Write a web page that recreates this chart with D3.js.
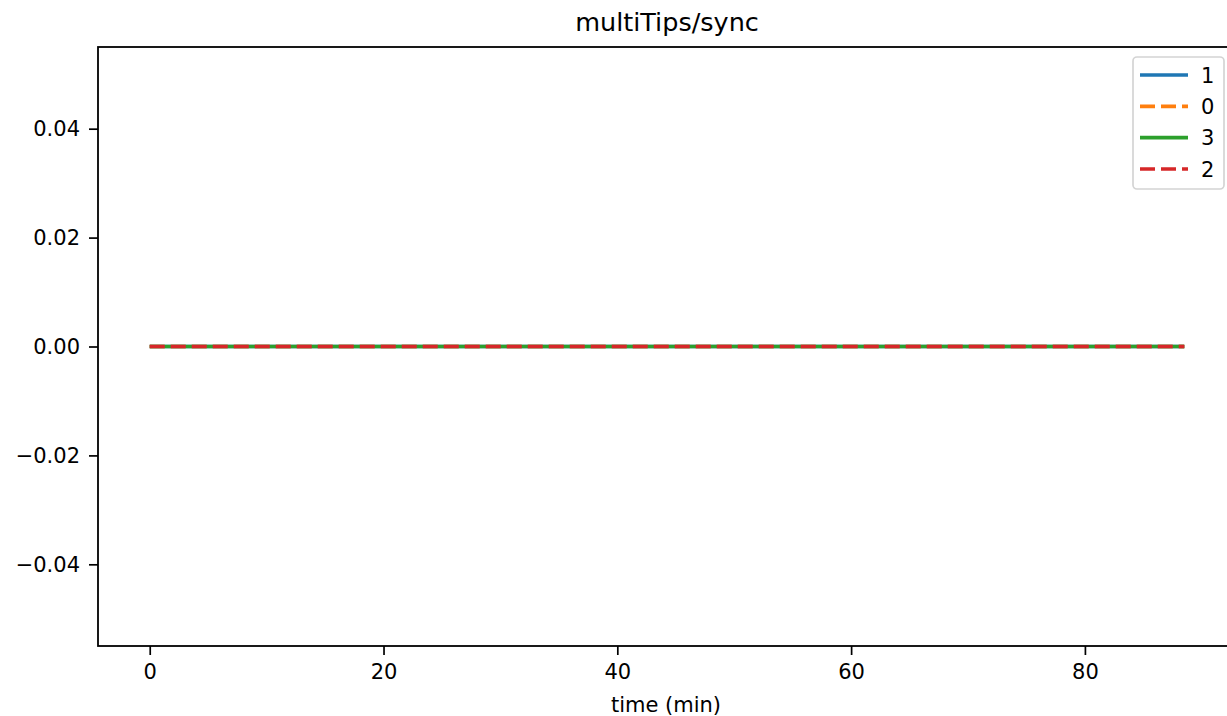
<!DOCTYPE html>
<html>
<head>
<meta charset="utf-8">
<script src="https://cdn.jsdelivr.net/npm/d3@7"></script>
<style>
  html, body { margin: 0; padding: 0; background: #fff; overflow: hidden; }
  svg { display: block; font-family: "DejaVu Sans", sans-serif; }
</style>
</head>
<body>
<svg id="chart" width="1227" height="716"></svg>
<script>
// ---- data ----
const title = "multiTips/sync";
const xLabel = "time (min)";
const seriesNames = ["1", "0", "3", "2"];
const seriesColors = ["#1f77b4", "#ff7f0e", "#2ca02c", "#d62728"];
const seriesDashed = [false, true, false, true];
const timeMin = [0, 10, 20, 30, 40, 50, 60, 70, 80, 88.5];
const values1 = [0, 0, 0, 0, 0, 0, 0, 0, 0, 0];
const values0 = [0, 0, 0, 0, 0, 0, 0, 0, 0, 0];
const values3 = [0, 0, 0, 0, 0, 0, 0, 0, 0, 0];
const values2 = [0, 0, 0, 0, 0, 0, 0, 0, 0, 0];
const seriesValues = [values1, values0, values3, values2];
const xTicks = [0, 20, 40, 60, 80];
const yTicks = [-0.04, -0.02, 0.00, 0.02, 0.04];
const xDomain = [-4.425, 92.925];
const yDomain = [-0.055, 0.055];

// ---- layout ----
const svg = d3.select("#chart");
const mLeft = 98, mTop = 47, mBottom = 646;
const mRight = 1236;
const x = d3.scaleLinear().domain(xDomain).range([mLeft, mRight]);
const y = d3.scaleLinear().domain(yDomain).range([mBottom, mTop]);

const fmtY = v => {
  const s = Math.abs(v).toFixed(2);
  return (v < -1e-12 ? "\u2212" : "") + s;
};

// axes
const xAxis = d3.axisBottom(x).tickValues(xTicks).tickSize(9).tickPadding(9).tickFormat(d3.format("d"));
const yAxis = d3.axisLeft(y).tickValues(yTicks).tickSize(9).tickPadding(9).tickFormat(fmtY);

const gx = svg.append("g").attr("transform", `translate(0,${mBottom})`).call(xAxis);
const gy = svg.append("g").attr("transform", `translate(${mLeft},0)`).call(yAxis);
[gx, gy].forEach(g => {
  g.select(".domain").remove();
  g.selectAll(".tick line").attr("stroke", "#000").attr("stroke-width", 1.7);
  g.selectAll(".tick text").attr("fill", "#000").style("font-size", "21px").style("font-family", "DejaVu Sans");
});

// lines
const line = d3.line().x((d, i) => x(timeMin[i])).y(d => y(d));
seriesValues.forEach((vals, k) => {
  svg.append("path")
    .datum(vals)
    .attr("d", line)
    .attr("fill", "none")
    .attr("stroke", seriesColors[k])
    .attr("stroke-width", 3.6)
    .attr("stroke-dasharray", seriesDashed[k] ? "15,6" : null);
});

// spines
svg.append("rect")
  .attr("x", mLeft).attr("y", mTop)
  .attr("width", mRight - mLeft).attr("height", mBottom - mTop)
  .attr("fill", "none").attr("stroke", "#000").attr("stroke-width", 1.8);

// title and label
svg.append("text").attr("x", 667).attr("y", 31).attr("text-anchor", "middle")
  .style("font-size", "25.5px").attr("fill", "#000").text(title);
svg.append("text").attr("x", 666).attr("y", 712).attr("text-anchor", "middle")
  .style("font-size", "21px").attr("fill", "#000").text(xLabel);

// legend
const lg = svg.append("g");
lg.append("rect")
  .attr("x", 1133).attr("y", 57).attr("width", 91).attr("height", 132)
  .attr("rx", 4).attr("ry", 4)
  .attr("fill", "#fff").attr("fill-opacity", 0.8)
  .attr("stroke", "#d4d4d4").attr("stroke-width", 1.7);
const ly = d3.scalePoint().domain(seriesNames).range([75, 169]);
seriesNames.forEach((name, k) => {
  const yy = ly(name);
  lg.append("line")
    .attr("x1", 1140).attr("x2", 1188).attr("y1", yy).attr("y2", yy)
    .attr("stroke", seriesColors[k]).attr("stroke-width", 3.6)
    .attr("stroke-dasharray", seriesDashed[k] ? "15,6" : null);
  lg.append("text").attr("x", 1201).attr("y", yy + 7.5)
    .style("font-size", "21px").attr("fill", "#000").text(name);
});
</script>
</body>
</html>
